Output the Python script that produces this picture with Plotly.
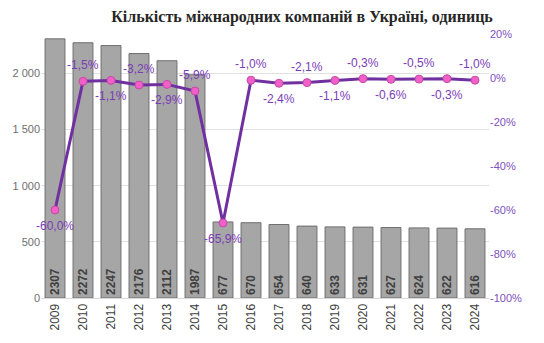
import plotly.graph_objects as go

years = ["2009","2010","2011","2012","2013","2014","2015","2016","2017","2018","2019","2020","2021","2022","2023","2024"]
companies = [2307,2272,2247,2176,2112,1987,677,670,654,640,633,631,627,624,622,616]
change_pct = [-60.0,-1.5,-1.1,-3.2,-2.9,-5.9,-65.9,-1.0,-2.4,-2.1,-1.1,-0.3,-0.6,-0.5,-0.3,-1.0]
left_ticks = [0,500,1000,1500,2000]
left_ticktext = ["0","500","1 000","1 500","2 000"]
right_ticks = [-1.0,-0.8,-0.6,-0.4,-0.2,0.0,0.2]
right_ticktext = ["-100%","-80%","-60%","-40%","-20%","0%","20%"]

purple = "#7030A0"
label_purple = "#7A3DB8"

pct_text = [f"{v:.1f}%".replace(".", ",") for v in change_pct]

fig = go.Figure()
fig.add_trace(go.Bar(
    x=years, y=companies,
    marker=dict(color="#A6A6A6", line=dict(color="#6E6E6E", width=1)),
    text=[str(c) for c in companies],
    textposition="inside", insidetextanchor="start", textangle=-90,
    textfont=dict(family="Liberation Sans", size=12, color="#404040", weight="bold"),
    width=0.71,
    hoverinfo="skip",
))
fig.add_trace(go.Scatter(
    x=years, y=[v/100 for v in change_pct], yaxis="y2",
    mode="lines+markers",
    line=dict(color=purple, width=3),
    marker=dict(size=8, color="#F060C8", line=dict(color="#C84AA8", width=1)),
    cliponaxis=False,
    hoverinfo="skip",
))

annotations = []
for i, (v, t) in enumerate(zip(change_pct, pct_text)):
    below = (i % 2 == 0)
    annotations.append(dict(
        x=i, y=v/100, xref="x", yref="y2", text=t, showarrow=False,
        yshift=-16 if below else 16, xanchor="center", yanchor="middle",
        font=dict(family="Liberation Sans", size=12, color=label_purple),
    ))

fig.update_layout(
    width=544, height=343,
    margin=dict(l=39, r=55, t=34, b=45),
    paper_bgcolor="white", plot_bgcolor="white",
    showlegend=False,
    bargap=0.29,
    annotations=annotations,
    title=dict(
        text="<b>Кількість міжнародних компаній в Україні, одиниць</b>",
        font=dict(family="Liberation Serif", size=16, color="#262626"),
        x=302/544, xref="container", xanchor="center",
        y=1-16/343, yref="container", yanchor="middle",
    ),
    xaxis=dict(
        type="category", range=[-0.5, len(years)-0.5], autorange=False,
        tickangle=-90, showgrid=False,
        showline=True, linecolor="#D9D9D9", linewidth=1,
        tickfont=dict(family="Liberation Sans", size=12, color="#404040"),
        ticks="",
    ),
    yaxis=dict(
        range=[0, 2350], tickvals=left_ticks, ticktext=left_ticktext,
        showgrid=True, gridcolor="#E0E0E0", gridwidth=1,
        zeroline=False, showline=False,
        tickfont=dict(family="Liberation Sans", size=11, color="#6E6E6E"),
    ),
    yaxis2=dict(
        range=[-1.0, 0.2], overlaying="y", side="right",
        tickvals=right_ticks, ticktext=right_ticktext,
        showgrid=False, zeroline=False, showline=False,
        tickfont=dict(family="Liberation Sans", size=11, color="#8050C0"),
    ),
)

fig.write_html("out.html")
